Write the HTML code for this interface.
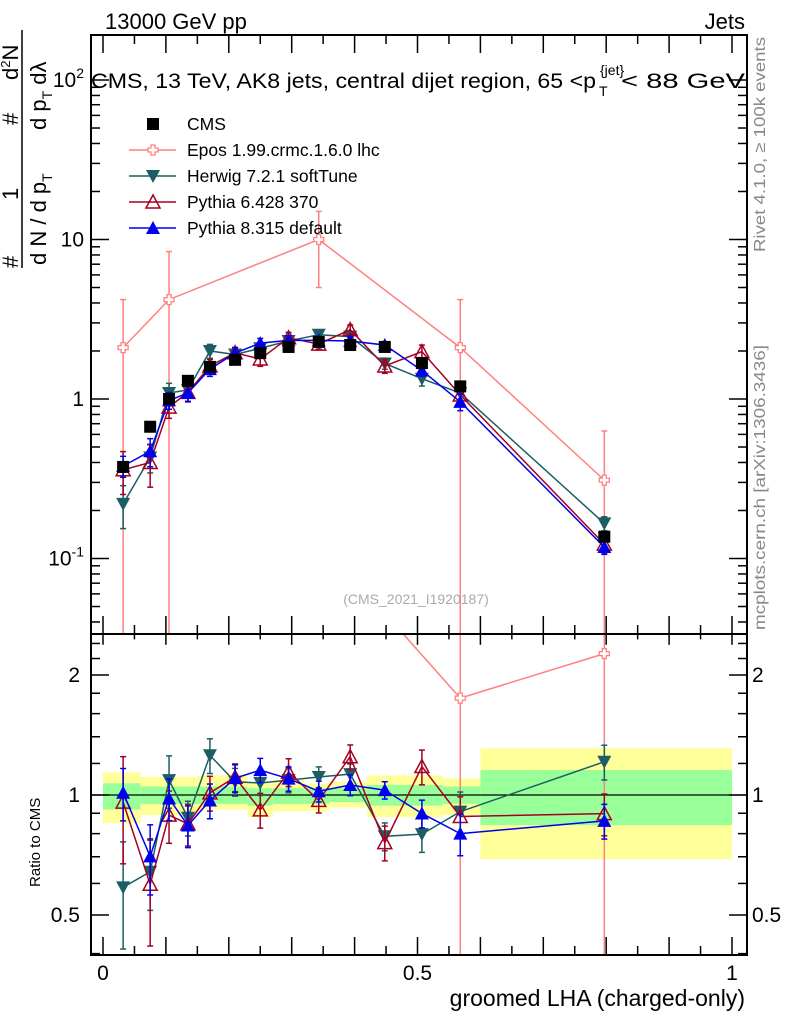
<!DOCTYPE html>
<html><head><meta charset="utf-8"><style>
html,body{margin:0;padding:0;background:#fff;overflow:hidden;width:786px;height:1024px;}
svg{display:block;font-family:"Liberation Sans",sans-serif;}
</style></head><body>
<svg id="c" width="786" height="1024" viewBox="0 0 786 1024" xmlns="http://www.w3.org/2000/svg">
<g id="bands"></g>
<g id="marks"></g>
<g id="frame"></g>
<g id="txt">
<text x="105" y="29" font-size="22">13000 GeV pp</text>
<text x="745" y="29" font-size="22" text-anchor="end">Jets</text>
<g font-size="21">
<text x="91" y="88" textLength="505" lengthAdjust="spacingAndGlyphs">CMS, 13 TeV, AK8 jets, central dijet region, 65 &lt;p</text>
<text x="599" y="96" font-size="14">T</text>
<text x="600" y="75" font-size="14">{jet}</text>
<text x="621" y="88" textLength="124" lengthAdjust="spacingAndGlyphs">&lt; 88 GeV</text>
</g>
<text x="416" y="604" font-size="14" fill="#aaa" text-anchor="middle">(CMS_2021_I1920187)</text>
<text x="745" y="1006" font-size="23" text-anchor="end">groomed LHA (charged-only)</text>
<text transform="translate(40,887) rotate(-90)" font-size="15">Ratio to CMS</text>
<text transform="translate(765,252) rotate(-90)" font-size="16" fill="#888" textLength="215" lengthAdjust="spacingAndGlyphs">Rivet 4.1.0, ≥ 100k events</text>
<text transform="translate(765,630) rotate(-90)" font-size="16" fill="#888" textLength="285" lengthAdjust="spacingAndGlyphs">mcplots.cern.ch [arXiv:1306.3436]</text>
<g font-size="22">
<line x1="22" y1="30" x2="22" y2="268" stroke="#000" stroke-width="1.5"/>
<text transform="translate(18,268) rotate(-90)">#</text>
<text transform="translate(18,200) rotate(-90)">1</text>
<text transform="translate(46,265) rotate(-90)">d N / d p<tspan font-size="14" dy="6">T</tspan></text>
<text transform="translate(18,125) rotate(-90)">#</text>
<text transform="translate(18,80) rotate(-90)">d<tspan font-size="13" dy="-8">2</tspan><tspan dy="8">N</tspan></text>
<text transform="translate(46,130) rotate(-90)">d p<tspan font-size="14" dy="6">T</tspan><tspan dy="-6"> d</tspan>λ</text>
</g>
</g>
</svg>
<script>
const xs=[0.032,0.075,0.105,0.135,0.17,0.21,0.25,0.295,0.343,0.393,0.448,0.507,0.568,0.797];
const cms=[0.375,0.67,1.0,1.3,1.59,1.76,1.94,2.12,2.28,2.18,2.12,1.68,1.2,0.137];
const herwig=[0.22,0.43,1.09,1.14,2.0,1.90,2.08,2.31,2.53,2.46,1.67,1.34,1.09,0.166];
const pythia6=[0.36,0.40,0.89,1.1,1.61,1.95,1.78,2.42,2.21,2.72,1.61,1.98,1.06,0.123];
const pythia8=[0.38,0.47,0.98,1.09,1.54,1.94,2.24,2.33,2.33,2.31,2.18,1.51,0.96,0.118];
const eposX=[0.032,0.105,0.343,0.568,0.797];
const epos=[2.1,4.2,10,2.1,0.31];
const eposErr=[2.1,4.2,5,2.1,0.32];
const herwigErrFrac=[0.3,0.2,0.15,0.1,0.1,0.08,0.07,0.07,0.06,0.06,0.08,0.1,0.12,0.1];
const pythia6ErrFrac=[0.3,0.3,0.15,0.12,0.1,0.08,0.1,0.08,0.07,0.07,0.1,0.1,0.12,0.12];
const pythia8ErrFrac=[0.15,0.2,0.12,0.12,0.1,0.08,0.07,0.07,0.06,0.06,0.05,0.08,0.12,0.1];
const binEdges=[0,0.06,0.15,0.23,0.27,0.32,0.36,0.42,0.54,0.6,1.0];
const yellowUp=[1.14,1.11,1.12,1.07,1.09,1.07,1.08,1.12,1.10,1.31];
const yellowDn=[0.85,0.89,0.92,0.88,0.91,0.91,0.93,0.88,0.89,0.69];
const greenUp=[1.07,1.05,1.05,1.04,1.04,1.04,1.04,1.06,1.05,1.155];
const greenDn=[0.92,0.95,0.95,0.94,0.95,0.95,0.96,0.94,0.95,0.84];
const xTicks=[0,0.5,1];
const mainTickLabels=["10^-1","1","10","10^2"];

const L=91,R=747,T=35,MB=634,RB=955;
const X=v=>103+629*v;
const Y=v=>399-159.5*Math.log10(v);
const RY=r=>795-398.6*Math.log10(r);
const NS="http://www.w3.org/2000/svg";
function el(tag,attrs,parent){const e=document.createElementNS(NS,tag);for(const k in attrs)e.setAttribute(k,attrs[k]);(parent||document.getElementById('marks')).appendChild(e);return e;}

const bg=document.getElementById('bands');
for(let i=0;i<yellowUp.length;i++){
 const x1=X(binEdges[i]),x2=X(binEdges[i+1]);
 let r=el('rect',{x:x1,y:RY(yellowUp[i]),width:x2-x1,height:RY(yellowDn[i])-RY(yellowUp[i]),fill:'#ffff99'},bg);
 
 
 r=el('rect',{x:x1,y:RY(greenUp[i]),width:x2-x1,height:RY(greenDn[i])-RY(greenUp[i]),fill:'#99ff99'},bg);
 
 
}
el('line',{x1:L,x2:R,y1:RY(1),y2:RY(1),stroke:'#000','stroke-width':1.2},bg);

const defs=el('defs',{},document.getElementById('c'));
el('rect',{x:L,y:T,width:R-L,height:MB-T},el('clipPath',{id:'cm'},defs));
el('rect',{x:L,y:MB,width:R-L,height:RB-MB},el('clipPath',{id:'cr'},defs));
const gm=el('g',{'clip-path':'url(#cm)'});
const gr=el('g',{'clip-path':'url(#cr)'});

function marker(type,x,y,col,g){
 let m;
 if(type==='sq') m=el('rect',{x:x-6,y:y-6,width:12,height:12,fill:col},g);
 else if(type==='dn') m=el('polygon',{points:`${x-7},${y-6} ${x+7},${y-6} ${x},${y+7}`,fill:col},g);
 else if(type==='upo') m=el('polygon',{points:`${x-7},${y+6} ${x+7},${y+6} ${x},${y-7}`,fill:'none',stroke:col,'stroke-width':1.5},g);
 else if(type==='up') m=el('polygon',{points:`${x-7},${y+6} ${x+7},${y+6} ${x},${y-7}`,fill:col},g);
 else if(type==='cross') m=el('path',{d:`M${x-2},${y-5}h4v3h3v4h-3v3h-4v-3h-3v-4h3z`,fill:'#fff',stroke:col,'stroke-width':1.3},g);
 return m;
}
function errbar(x,y1,y2,col,g){
 el('line',{x1:x,x2:x,y1:y1,y2:y2,stroke:col,'stroke-width':1.5},g);
 el('line',{x1:x-3,x2:x+3,y1:y1,y2:y1,stroke:col,'stroke-width':1.5},g);
 el('line',{x1:x-3,x2:x+3,y1:y2,y2:y2,stroke:col,'stroke-width':1.5},g);
}
function series(name,xv,vals,errLo,errHi,col,type,g,Yf,maxErrVal){
 const sg=el('g',{},g);
 
 
 const pts=xv.map((x,i)=>X(x)+','+Yf(vals[i])).join(' ');
 if(type!=='sq') el('polyline',{points:pts,fill:'none',stroke:col,'stroke-width':1.5},sg);
 xv.forEach((x,i)=>{
  if(errHi && !(maxErrVal && vals[i]>maxErrVal)){const lo=vals[i]-errLo[i];errbar(X(x),Yf(vals[i]+errHi[i]),lo>0?Yf(lo):2000,col,sg);}
  const m=marker(type,X(x),Yf(vals[i]),col,sg);
  
  
 });
}
const ab=(v,f)=>v.map((a,i)=>a*f[i]);
const cols={epos:'#ff8080',herwig:'#1b5e63',p6:'#a50021',p8:'#0000ee'};
series('epos-series',eposX,epos,eposErr,eposErr,cols.epos,'cross',gm,Y);
series('herwig-series',xs,herwig,ab(herwig,herwigErrFrac),ab(herwig,herwigErrFrac),cols.herwig,'dn',gm,Y);
series('pythia6-series',xs,pythia6,ab(pythia6,pythia6ErrFrac),ab(pythia6,pythia6ErrFrac),cols.p6,'upo',gm,Y);
series('pythia8-series',xs,pythia8,ab(pythia8,pythia8ErrFrac),ab(pythia8,pythia8ErrFrac),cols.p8,'up',gm,Y);
series('cms-series',xs,cms,null,null,'#000','sq',gm,Y);
const rat=(v,xv)=>v.map((a,i)=>a/cms[xs.indexOf(xv[i])]);
const er=eposX.map((x,i)=>eposErr[i]/cms[xs.indexOf(x)]);
series('epos-ratio',eposX,rat(epos,eposX),er,er,cols.epos,'cross',gr,RY,3);
const hr=rat(herwig,xs),p6r=rat(pythia6,xs),p8r=rat(pythia8,xs);
series('herwig-ratio',xs,hr,ab(hr,herwigErrFrac),ab(hr,herwigErrFrac),cols.herwig,'dn',gr,RY);
series('pythia6-ratio',xs,p6r,ab(p6r,pythia6ErrFrac),ab(p6r,pythia6ErrFrac),cols.p6,'upo',gr,RY);
series('pythia8-ratio',xs,p8r,ab(p8r,pythia8ErrFrac),ab(p8r,pythia8ErrFrac),cols.p8,'up',gr,RY);

const lg=el('g',{});


const legNames=['CMS','Epos 1.99.crmc.1.6.0 lhc','Herwig 7.2.1 softTune','Pythia 6.428 370','Pythia 8.315 default'];
const legTypes=['sq','cross','dn','upo','up'];
const legCols=['#000',cols.epos,cols.herwig,cols.p6,cols.p8];
legNames.forEach((n,i)=>{
 const y=124+26*i;
 const eg=el('g',{},lg);
 
 
 if(i>0) el('line',{x1:129,x2:176,y1:y,y2:y,stroke:legCols[i],'stroke-width':1.5},eg);
 marker(legTypes[i],153,y,legCols[i],eg);
 const t=el('text',{x:187,y:y+6,'font-size':17.5},eg);t.textContent=n;
});

const fr=document.getElementById('frame');
el('rect',{x:L,y:T,width:R-L,height:RB-T,fill:'none',stroke:'#000','stroke-width':2},fr);
el('line',{x1:L,x2:R,y1:MB,y2:MB,stroke:'#000','stroke-width':2},fr);
const tk=(x1,y1,x2,y2)=>el('line',{x1,y1,x2,y2,stroke:'#000','stroke-width':1.5},fr);
for(let k=0;k<=20;k++){const v=k*0.05,x=X(v),len=k%2===0?18:9;
 tk(x,RB,x,RB-len);tk(x,MB,x,MB-len);tk(x,MB,x,MB+len*0.6);tk(x,T,x,T+len);}
for(let d=-2;d<=2;d++)for(let m=1;m<10;m++){const v=m*Math.pow(10,d),y=Y(v);if(y<T||y>MB)continue;
 const len=m===1?18:9;tk(L,y,L+len,y);tk(R,y,R-len,y);}
[0.4,0.5,0.6,0.7,0.8,0.9,1,1.2,1.4,1.6,1.8,2,2.2,2.4].forEach(r=>{const y=RY(r);const len=(r===0.5||r===1||r===2)?18:9;tk(L,y,L+len,y);tk(R,y,R-len,y);});
const tx=document.getElementById('txt');
xTicks.forEach(v=>{const t=el('text',{x:X(v),y:980,'font-size':21,'text-anchor':'middle'},tx);t.textContent=String(v);
 });
const mtv=[0.1,1,10,100];
mainTickLabels.forEach((s,i)=>{const y=Y(mtv[i])+7;const t=el('text',{x:84,y:y,'font-size':21,'text-anchor':'end'},tx);
 const p=s.split('^');t.textContent=p[0];if(p[1]){const ts=el('tspan',{'font-size':14,dy:-9},t);ts.textContent=p[1];}
 });
[[2,'2'],[1,'1'],[0.5,'0.5']].forEach(([r,s])=>{
 const t=el('text',{x:80,y:RY(r)+7,'font-size':21,'text-anchor':'end'},tx);t.textContent=s;
 
 const t2=el('text',{x:752,y:RY(r)+7,'font-size':21},tx);t2.textContent=s;
 });
</script>
</body></html>
